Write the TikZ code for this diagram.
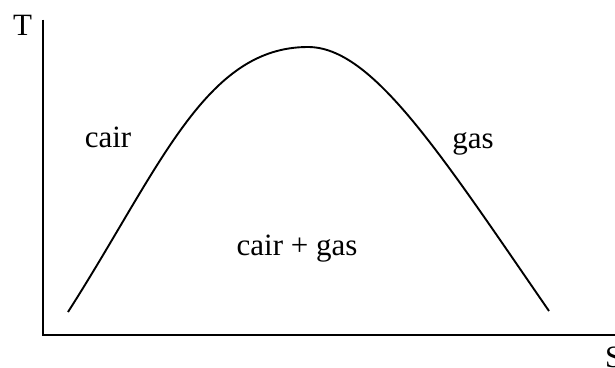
\documentclass[tikz,border=0pt]{standalone}
\usepackage{fontspec}
\setmainfont{Liberation Serif}
\usetikzlibrary{positioning}

\tikzset{
  axisline/.style={line width=2pt},
  domeline/.style={line width=1.9pt},
  phaselabel/.style={anchor=base, inner sep=0pt, font=\fontsize{31}{36}\selectfont}
}

\begin{document}
\begin{tikzpicture}[x=1pt, y=-1pt]

  \useasboundingbox (0,0) rectangle (615,367);

  % Axes
  \coordinate (origin) at (43,334.5);
  \coordinate (ytop)   at (43,19.5);
  \coordinate (xend)   at (615,334.5);
  \draw[axisline] (ytop) |- (xend);

  \node[phaselabel] (tlabel) at (22.5,35) {T};
  \node[phaselabel, anchor=base west] (slabel) at (605,367) {S};

  % Saturation dome
  \coordinate (liqend) at (68,312);
  \coordinate (crit)   at (308,47);
  \coordinate (vapend) at (549,311);
  \draw[domeline] (liqend) .. controls (160,168) and (205,47) .. (crit)
                           .. controls (372,47) and (439,151.5) .. (vapend);

  % Region labels
  \node[phaselabel] (liquid) at (108,147) {cair};
  \node[phaselabel] (vapour) at (473,148) {gas};
  \node[phaselabel] (mixture) at (297,255) {cair + gas};

\end{tikzpicture}
\end{document}
